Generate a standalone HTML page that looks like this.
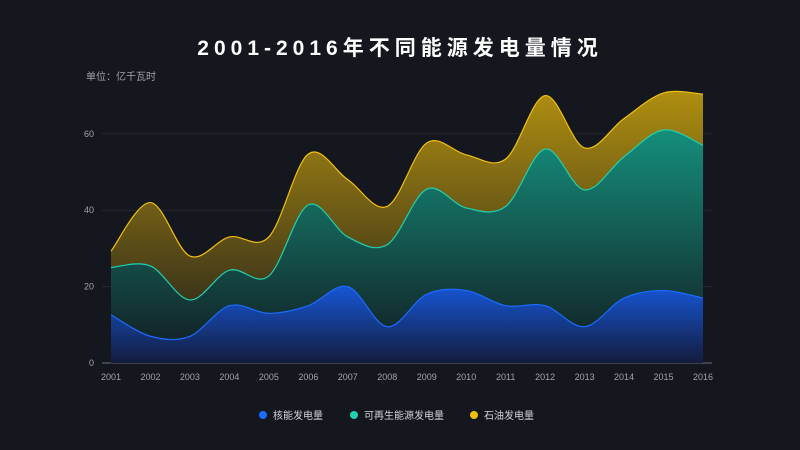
<!DOCTYPE html>
<html><head><meta charset="utf-8"><style>
html,body{margin:0;padding:0;background:#15171e;}
svg{display:block;font-family:"Liberation Sans","Noto Sans CJK SC",sans-serif;}
</style></head><body>
<svg id="chart" width="800" height="450" viewBox="0 0 800 450">
<defs>
<linearGradient id="gOil" gradientUnits="userSpaceOnUse" x1="0" y1="90" x2="0" y2="363"><stop offset="0" stop-color="#b08f10"/><stop offset="1" stop-color="#1a1a1c"/></linearGradient>
<linearGradient id="gRen" gradientUnits="userSpaceOnUse" x1="0" y1="125" x2="0" y2="363"><stop offset="0" stop-color="#14917e"/><stop offset="1" stop-color="#13191f"/></linearGradient>
<linearGradient id="gNuc" gradientUnits="userSpaceOnUse" x1="0" y1="285" x2="0" y2="363"><stop offset="0" stop-color="#1657d8"/><stop offset="1" stop-color="#141c3c"/></linearGradient>
</defs>
<text x="400" y="55" text-anchor="middle" fill="#ffffff" font-size="21" font-weight="bold" letter-spacing="5">2001-2016年不同能源发电量情况</text>
<text x="86" y="80" fill="#a0a3ab" font-size="10">单位：亿千瓦时</text>
<g id="grid"></g><g id="areas"></g><g id="lines"></g><g id="xlabels"></g>
<g>
<g><circle cx="263" cy="415" r="4" fill="#1a6cff"/><text x="273" y="419" fill="#d0d2d8" font-size="10">核能发电量</text></g>
<g><circle cx="354" cy="415" r="4" fill="#1fd1b0"/><text x="364" y="419" fill="#d0d2d8" font-size="10">可再生能源发电量</text></g>
<g><circle cx="474" cy="415" r="4" fill="#f2c00f"/><text x="484" y="419" fill="#d0d2d8" font-size="10">石油发电量</text></g>
</g>
</svg>
<script>
const years=["2001","2002","2003","2004","2005","2006","2007","2008","2009","2010","2011","2012","2013","2014","2015","2016"];
const nuclear=[12.6,7,7,15,13,15,20,9.5,18,19,15,15,9.5,17,19,17];
const renewable=[12.4,18.4,9.5,9.3,9.8,26.4,13,21.5,27.5,21.6,26,41,35.8,37,42,40];
const oil=[4.3,16.6,11.5,8.7,10.2,13.3,15,10,12.1,13.9,12.4,14,11,10,9.7,13.4];
const yTicks=[0,20,40,60];
const NS="http://www.w3.org/2000/svg";
const x0=111,x1=703,yb=363,pxPer=3.82;
const X=i=>x0+i*(x1-x0)/(years.length-1);
const Y=v=>yb-v*pxPer;
function mk(tag,attrs,parent){const e=document.createElementNS(NS,tag);for(const k in attrs)e.setAttribute(k,attrs[k]);parent.appendChild(e);return e;}
const grid=document.getElementById('grid');
yTicks.forEach(t=>{
  const l=mk('line',{x1:102,x2:712,y1:Y(t),y2:Y(t),stroke:t===0?'#6a6d75':'#262930','stroke-width':1},grid);
  
  
  const tx=mk('text',{x:94,y:Y(t)+3,'text-anchor':'end',fill:'#a0a3ab','font-size':9},grid);
  tx.textContent=t;
  
  
});
const xl=document.getElementById('xlabels');
years.forEach((y,i)=>{
  const t=mk('text',{x:X(i),y:380,'text-anchor':'middle',fill:'#a0a3ab','font-size':9},xl);
  t.textContent=y;
  
  
});
function smooth(pts){
  let d='M'+pts[0][0]+','+pts[0][1];
  for(let i=0;i<pts.length-1;i++){
    const p0=pts[Math.max(i-1,0)],p1=pts[i],p2=pts[i+1],p3=pts[Math.min(i+2,pts.length-1)];
    const c1=[p1[0]+(p2[0]-p0[0])/6,p1[1]+(p2[1]-p0[1])/6];
    const c2=[p2[0]-(p3[0]-p1[0])/6,p2[1]-(p3[1]-p1[1])/6];
    d+=' C'+c1[0]+','+c1[1]+' '+c2[0]+','+c2[1]+' '+p2[0]+','+p2[1];
  }
  return d;
}
const c1=nuclear.slice(),c2=nuclear.map((v,i)=>v+renewable[i]),c3=c2.map((v,i)=>v+oil[i]);
const toPts=a=>a.map((v,i)=>[X(i),Y(v)]);
const areas=document.getElementById('areas'),lines=document.getElementById('lines');
function revPath(pts){const r=pts.slice().reverse();return smooth(r).replace(/^M/,' L');}
const series=[
 {name:'oil',top:c3,bot:c2,fill:'url(#gOil)',stroke:'#f2c00f'},
 {name:'renewable',top:c2,bot:c1,fill:'url(#gRen)',stroke:'#1fd1b0'},
 {name:'nuclear',top:c1,bot:null,fill:'url(#gNuc)',stroke:'#1a6cff'}
];
series.forEach(s=>{
  const tp=toPts(s.top);
  let d=smooth(tp);
  if(s.bot){d+=revPath(toPts(s.bot))+' Z';}
  else{d+=' L'+X(years.length-1)+','+yb+' L'+X(0)+','+yb+' Z';}
  const a=mk('path',{d:d,fill:s.fill},areas);
  
  
  const l=mk('path',{d:smooth(tp),fill:'none',stroke:s.stroke,'stroke-width':1.2},lines);
  
  
});
</script>
</body></html>
